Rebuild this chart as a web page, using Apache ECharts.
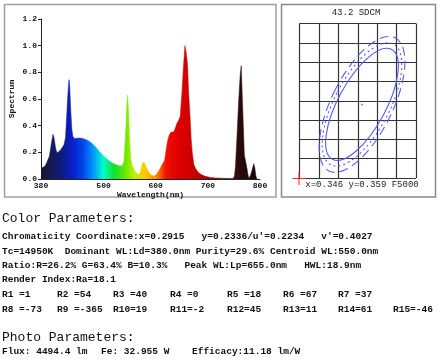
<!DOCTYPE html>
<html>
<head>
<meta charset="utf-8">
<script src="https://cdn.jsdelivr.net/npm/echarts@6/dist/echarts.min.js"></script>
<style>
html,body{margin:0;padding:0;background:#fff;}
#chart{width:443px;height:364px;}
</style>
</head>
<body>
<div id="chart"></div>
<script>
// ---- Spectrum data ----
const wavelengths = [380,385,389,392,396,400,403,405,408,411,414,418,421,424,427,429,431,433,434,435,437,439,441,444,448,453,458,463,468,473,479,485,491,497,504,510,517,523,530,536,539,541,543,545,546,548,550,552,555,559,563,566,569,572,575,577,579,582,586,591,596,600,604,608,611,614,617,620,623,626,629,632,635,638,641,644,647,650,653,656,658,661,663,666,668,670,673,677,682,688,695,705,715,730,748,751,753,756,759,762,764,766,768,770,772,775,777,779,782,785,788,790,792,794];
const spectrumValues = [0.08,0.09,0.105,0.12,0.17,0.27,0.335,0.31,0.23,0.195,0.2,0.22,0.235,0.257,0.31,0.45,0.6,0.72,0.745,0.7,0.52,0.38,0.32,0.303,0.305,0.307,0.305,0.3,0.293,0.282,0.262,0.24,0.21,0.185,0.157,0.138,0.12,0.108,0.1,0.098,0.13,0.25,0.4,0.58,0.628,0.5,0.3,0.16,0.1,0.068,0.045,0.033,0.035,0.075,0.125,0.138,0.118,0.085,0.055,0.03,0.022,0.03,0.05,0.075,0.1,0.11,0.14,0.22,0.29,0.33,0.35,0.36,0.355,0.36,0.42,0.44,0.47,0.63,0.83,1.0,0.96,0.86,0.66,0.46,0.3,0.2,0.11,0.075,0.048,0.032,0.02,0.012,0.008,0.005,0.004,0.02,0.1,0.33,0.58,0.78,0.85,0.62,0.4,0.18,0.14,0.08,0.03,0.004,0.03,0.07,0.115,0.085,0.025,0];
const xTickValues = [380,500,600,700,800];
const xTickLabels = ['380','500','600','700','800'];
const wlColorStops = ['#14142e','#141a55','#0c1c80','#0a1ec8','#0044e8','#0096ff','#00ffc8','#10e030','#60e800','#c8f000','#ffc800','#ff9000','#f01000','#e00000','#d40000','#c00000','#a80000','#801010','#501010','#2a0a0a','#200808','#180606'];

// ---- Chromaticity ellipse panel ----
const ellipseCenterX = [3.22, 3.22, 3.22];
const ellipseCenterY = [3.81, 3.81, 3.81];
const ellipseSemiMinor = [1.23, 1.42, 1.57];
const ellipseSemiMajor = [3.23, 3.52, 3.85];
const ellipseTiltDeg = [28.4, 27.5, 26.4];
const ellipseDash = ['solid', 'dotted', 'dashed'];
const markerPoint = [0, 0];
const sdcmTitle = '43.2 SDCM';
const coordText = 'x=0.346 y=0.359 F5000';

// ---- Text parameters ----
const colorHeader = 'Color Parameters:';
const colorLines = [
  "Chromaticity Coordinate:x=0.2915   y=0.2336/u'=0.2234   v'=0.4027",
  "Tc=14950K  Dominant WL:Ld=380.0nm Purity=29.6% Centroid WL:550.0nm",
  "Ratio:R=26.2% G=63.4% B=10.3%   Peak WL:Lp=655.0nm   HWL:18.9nm",
  "Render Index:Ra=18.1"
];
const rRow1 = ['R1 =1','R2 =54','R3 =40','R4 =0','R5 =18','R6 =67','R7 =37'];
const rRow2 = ['R8 =-73','R9 =-365','R10=19','R11=-2','R12=45','R13=11','R14=61','R15=-46'];
const photoHeader = 'Photo Parameters:';
const photoParts = ['Flux: 4494.4 lm', 'Fe: 32.955 W', 'Efficacy:11.18 lm/W'];

const chart = echarts.init(document.getElementById('chart'), null, {renderer:'canvas'});

const mono = '"Liberation Mono", "DejaVu Sans Mono", monospace';
const graphics = [
  {type:'rect', shape:{x:4.5, y:4.5, width:271.5, height:192.5}, style:{fill:'none', stroke:'#a0a0a0', lineWidth:1.5}, z:-1},
  {type:'rect', shape:{x:281.5, y:4.5, width:154, height:192.5}, style:{fill:'none', stroke:'#8a8a8a', lineWidth:1.5}, z:-1},
  {type:'text', x:356, y:13, style:{text:sdcmTitle, font:'9px '+mono, fill:'#222', align:'center', verticalAlign:'middle'}},
  {type:'text', x:362, y:185, style:{text:coordText, font:'9px '+mono, fill:'#222', align:'center', verticalAlign:'middle'}},
  {type:'text', x:2, y:218.5, style:{text:colorHeader, font:'13px '+mono, fill:'#111', verticalAlign:'middle'}},
  {type:'text', x:2, y:338, style:{text:photoHeader, font:'13px '+mono, fill:'#111', verticalAlign:'middle'}}
];
const photoX = [2, 101, 192];
photoParts.forEach((t,i)=>graphics.push({type:'text', x:photoX[i], y:352, style:{text:t, font:'bold 9.5px '+mono, fill:'#111', verticalAlign:'middle'}}));
const lineYs = [237, 251.5, 266, 280];
colorLines.forEach((t,i)=>{
  graphics.push({type:'text', x:2, y:lineYs[i], style:{text:t, font:'bold 9.5px '+mono, fill:'#111', verticalAlign:'middle'}});
});
const rColX = [2, 57, 113, 170, 227, 283, 338, 393];
rRow1.forEach((t,i)=>graphics.push({type:'text', x:rColX[i], y:295, style:{text:t, font:'bold 9.5px '+mono, fill:'#111', verticalAlign:'middle'}}));
rRow2.forEach((t,i)=>graphics.push({type:'text', x:rColX[i], y:309.5, style:{text:t, font:'bold 9.5px '+mono, fill:'#111', verticalAlign:'middle'}}));

const ellipseData = ellipseCenterX.map((cx,i)=>[cx, ellipseCenterY[i], ellipseSemiMinor[i], ellipseSemiMajor[i], ellipseTiltDeg[i], i]);

const option = {
  animation:false,
  backgroundColor:'#fff',
  grid:[
    {left:41, right:183, top:19, bottom:185},
    {left:299.5, right:27, top:23.5, bottom:186}
  ],
  visualMap:{show:false, type:'continuous', seriesIndex:0, dimension:0, min:380, max:800, inRange:{color:wlColorStops}},
  xAxis:[
    {gridIndex:0, type:'value', min:380, max:800,
      name:'Wavelength(nm)', nameLocation:'middle', nameGap:12,
      nameTextStyle:{fontFamily:mono, fontWeight:'bold', fontSize:8, color:'#111'},
      axisLine:{show:true, lineStyle:{color:'#222', width:1}},
      axisTick:{show:false},
      splitLine:{show:false},
      axisLabel:{customValues:xTickValues, formatter:(v)=>xTickLabels[xTickValues.indexOf(v)] ?? '', fontFamily:mono, fontWeight:'bold', fontSize:8, color:'#111', margin:3}
    },
    {gridIndex:1, type:'value', min:0, max:6, interval:1,
      axisLine:{show:false}, axisTick:{show:false}, axisLabel:{show:false},
      splitLine:{show:true, lineStyle:{color:'#333', width:1.2}}
    }
  ],
  yAxis:[
    {gridIndex:0, type:'value', min:0, max:1.2, interval:0.2,
      name:'Spectrum', nameLocation:'middle', nameGap:25, nameRotate:90,
      nameTextStyle:{fontFamily:mono, fontWeight:'bold', fontSize:8, color:'#111'},
      axisLine:{show:true, lineStyle:{color:'#222', width:1}},
      axisTick:{show:true, length:3, lineStyle:{color:'#222'}},
      splitLine:{show:false},
      axisLabel:{formatter:(v)=>v.toFixed(1), fontFamily:mono, fontWeight:'bold', fontSize:8, color:'#111', margin:4}
    },
    {gridIndex:1, type:'value', min:0, max:8, interval:1,
      axisLine:{show:false}, axisTick:{show:false}, axisLabel:{show:false},
      splitLine:{show:true, lineStyle:{color:'#333', width:1.2}}
    }
  ],
  series:[
    {type:'line', xAxisIndex:0, yAxisIndex:0, symbol:'none', smooth:false,
      data: wavelengths.map((w,i)=>[w, spectrumValues[i]]),
      lineStyle:{width:0.5}, areaStyle:{opacity:1}},
    {type:'custom', xAxisIndex:1, yAxisIndex:1, coordinateSystem:'cartesian2d',
      data: ellipseData,
      renderItem:(params, api)=>{
        const c = api.coord([api.value(0), api.value(1)]);
        const s = api.size([api.value(2), api.value(3)]);
        const idx = api.value(5);
        const dash = ellipseDash[idx];
        return {type:'ellipse', x:c[0], y:c[1], rotation:-api.value(4)*Math.PI/180,
          shape:{cx:0, cy:0, rx:s[0], ry:s[1]},
          style:{fill:'none', stroke:'#5a5af5', lineWidth:1.1, lineDash: dash==='dashed'?[9,5]:(dash==='dotted'?[2,3]:null)}};
      }},
    {type:'scatter', xAxisIndex:1, yAxisIndex:1, data:[[ellipseCenterX[0], ellipseCenterY[0]]], symbol:'circle', symbolSize:2, itemStyle:{color:'#5a5af5'}, silent:true},
    {type:'custom', xAxisIndex:1, yAxisIndex:1, coordinateSystem:'cartesian2d', clip:false,
      data:[markerPoint],
      renderItem:(params, api)=>{
        const c = api.coord([api.value(0), api.value(1)]);
        const st = {stroke:'#ff2020', lineWidth:1};
        return {type:'group', children:[
          {type:'line', shape:{x1:c[0]-7, y1:c[1]+0.5, x2:c[0]+7, y2:c[1]+0.5}, style:st},
          {type:'line', shape:{x1:c[0]-0.5, y1:c[1]-6, x2:c[0]-0.5, y2:c[1]+7}, style:st}
        ]};
      }}
  ],
  graphic: graphics
};
chart.setOption(option);
</script>
</body>
</html>
